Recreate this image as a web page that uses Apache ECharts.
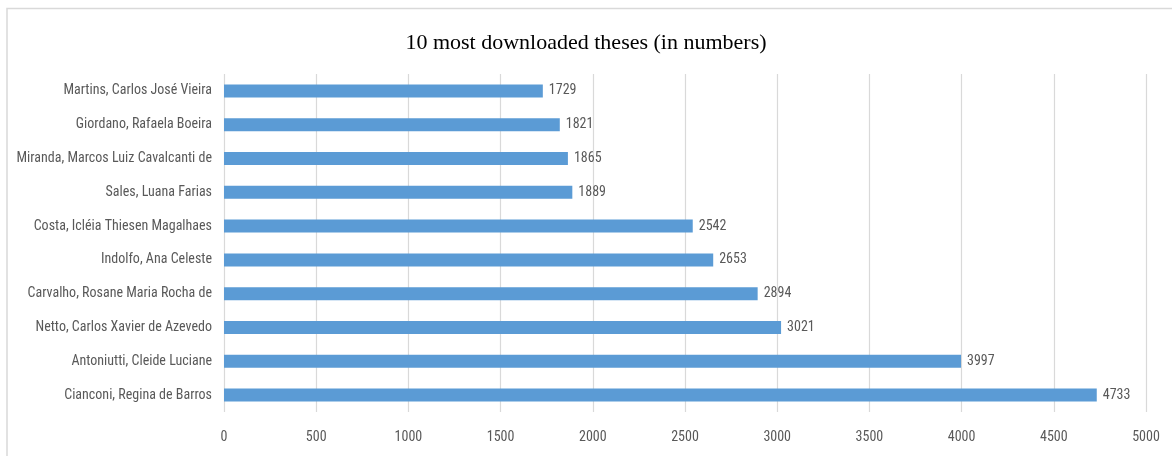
<!DOCTYPE html>
<html>
<head>
<meta charset="utf-8">
<style>
  html, body { margin: 0; padding: 0; background: #ffffff; }
  #chart { width: 1172px; height: 456px; }
</style>
<script src="https://cdn.jsdelivr.net/npm/echarts@6/dist/echarts.min.js"></script>
</head>
<body>
<div id="chart"></div>
<script>
// Authors, listed bottom-to-top as the category axis draws them
const authors = [
  'Cianconi, Regina de Barros',
  'Antoniutti, Cleide Luciane',
  'Netto, Carlos Xavier de Azevedo',
  'Carvalho, Rosane Maria Rocha de',
  'Indolfo, Ana Celeste',
  'Costa, Icléia Thiesen Magalhaes',
  'Sales, Luana Farias',
  'Miranda, Marcos Luiz Cavalcanti de',
  'Giordano, Rafaela Boeira',
  'Martins, Carlos José Vieira'
];
const downloads = [4733, 3997, 3021, 2894, 2653, 2542, 1889, 1865, 1821, 1729];
const xTicks = [0, 500, 1000, 1500, 2000, 2500, 3000, 3500, 4000, 4500, 5000];

const narrow = '"Liberation Sans Narrow", "Arial Narrow", "Roboto Condensed", "Liberation Sans", sans-serif';
const textGrey = '#595959';

const chart = echarts.init(document.getElementById('chart'), null, { renderer: 'canvas' });
chart.setOption({
  animation: false,
  backgroundColor: '#ffffff',
  title: {
    text: '10 most downloaded theses (in numbers)',
    left: 'center',
    top: 27,
    textStyle: {
      fontFamily: '"Liberation Serif", "Times New Roman", serif',
      fontWeight: 'normal',
      fontSize: 22,
      color: '#000000'
    }
  },
  graphic: [{
    type: 'polyline',
    shape: { points: [[7, 460], [7, 8.5], [1180, 8.5]] },
    style: { stroke: '#d9d9d9', lineWidth: 1.5, fill: null },
    silent: true
  }],
  grid: { left: 224, right: 26, top: 74, bottom: 44, containLabel: false },
  xAxis: {
    type: 'value',
    min: xTicks[0],
    max: xTicks[xTicks.length - 1],
    interval: xTicks[1] - xTicks[0],
    axisLine: { show: false },
    axisTick: { show: false },
    splitLine: { show: true, lineStyle: { color: '#d9d9d9', width: 1.2 } },
    axisLabel: {
      margin: 18,
      formatter: v => String(v),
      fontFamily: narrow,
      fontSize: 14,
      color: textGrey
    }
  },
  yAxis: {
    type: 'category',
    data: authors,
    axisLine: { show: false },
    axisTick: { show: false },
    axisLabel: {
      margin: 12,
      fontFamily: narrow,
      fontSize: 14,
      color: textGrey
    }
  },
  series: [{
    type: 'bar',
    data: downloads,
    barWidth: 13,
    itemStyle: { color: '#5b9bd5' },
    label: {
      show: true,
      position: 'right',
      distance: 6,
      fontFamily: narrow,
      fontSize: 14,
      color: textGrey
    }
  }]
});
</script>
</body>
</html>
